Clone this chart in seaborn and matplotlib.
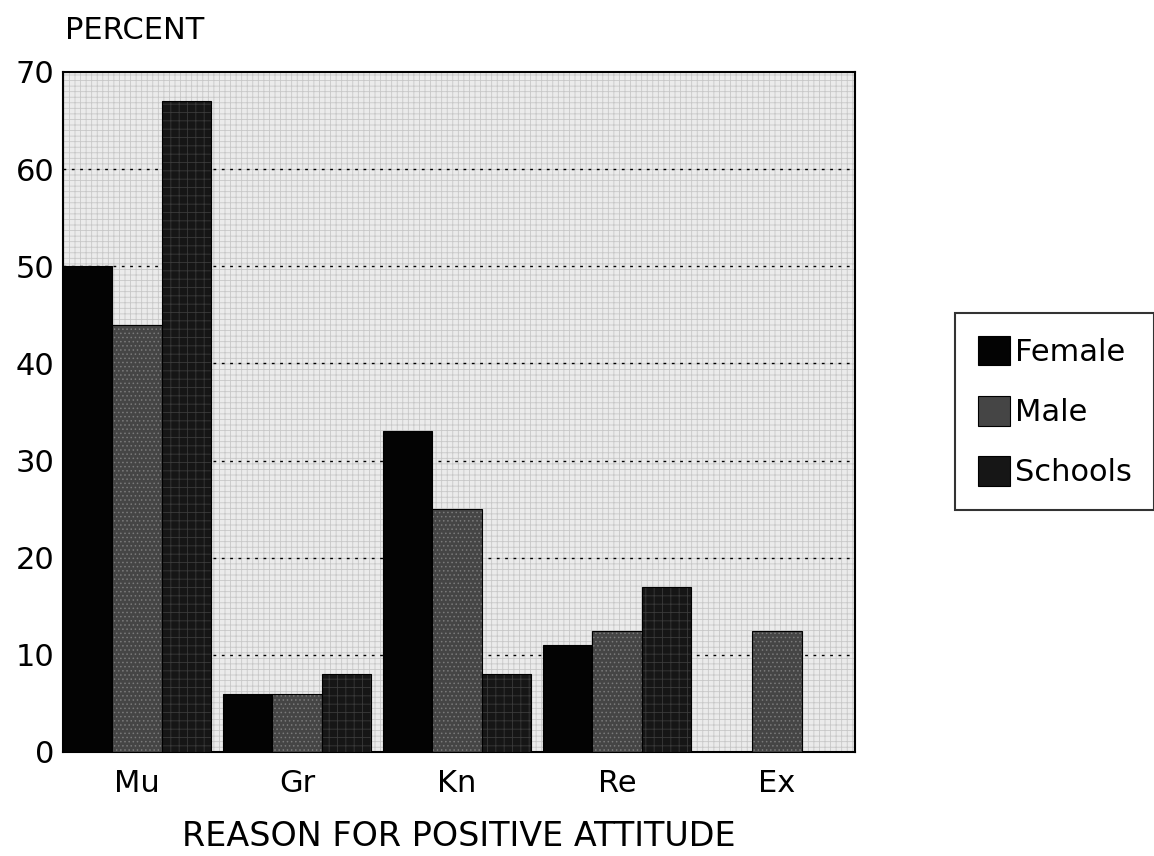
# Imports

import pandas as pd
import numpy as np
import matplotlib.pyplot as plt
import matplotlib.colors as mcolors
import seaborn as sns

# Data

reasons = ['Mu', 'Gr', 'Kn', 'Re', 'Ex']
groups = ['Female', 'Male', 'Schools']
female = [50, 6, 33, 11, 0]
male = [44, 6, 25, 12.5, 12.5]
schools = [67, 8, 8, 17, 0]

data = pd.DataFrame({
    'reason': reasons * 3,
    'group': ['Female'] * 5 + ['Male'] * 5 + ['Schools'] * 5,
    'percent': female + male + schools,
})

# Plot

sns.set_style('white', {'text.color': 'black', 'xtick.color': 'black',
                        'ytick.color': 'black', 'axes.labelcolor': 'black'})
plt.rcParams['font.family'] = ['DejaVu Sans']
plt.rcParams['hatch.linewidth'] = 0.6

fig = plt.figure(figsize=(11.54, 8.56), dpi=100)
ax = fig.add_axes([0.0546, 0.1215, 0.6864, 0.7945])

palette = {'Female': '#030303', 'Male': '#454545', 'Schools': '#161616'}
sns.barplot(data=data, x='reason', y='percent', hue='group', order=reasons,
            hue_order=groups, palette=palette, saturation=1, width=0.925,
            edgecolor='black', linewidth=0.8, ax=ax, zorder=3)

# textures on the bars
for cont, hatch, hc in zip(ax.containers, [None, '....', '++'], [None, '#7a7a7a', '#3a3a3a']):
    for bar in cont:
        if hatch:
            bar.set_hatch(hatch)
            bar._hatch_color = mcolors.to_rgba(hc)

# stippled background
ax.set_facecolor('#ebebeb')
ax.patch.set_hatch('+++')
ax.patch.set_edgecolor('#c8c8c8')

ax.set_ylim(0, 70)
ax.set_xlim(-0.4625, 4.4875)
ax.set_yticks(range(0, 71, 10))
for y in range(10, 70, 10):
    ax.axhline(y, color='black', linestyle=(0, (2, 4)), linewidth=1.0, zorder=2)

for s in ax.spines.values():
    s.set_color('black')
    s.set_linewidth(1.5)

ax.tick_params(axis='x', labelsize=22, length=0, pad=12)
ax.tick_params(axis='y', labelsize=22, length=0, pad=6)
ax.set_xlabel('REASON FOR POSITIVE ATTITUDE', fontsize=24, labelpad=16)
ax.set_ylabel('')
fig.text(0.056, 0.948, 'PERCENT', fontsize=22, ha='left', va='bottom')

leg = ax.legend(loc='center left', bbox_to_anchor=(0.8275, 0.519),
                bbox_transform=fig.transFigure, fontsize=22, frameon=True,
                fancybox=False, edgecolor='black', handlelength=1.05,
                handleheight=1.1, handletextpad=0.15, labelspacing=0.95,
                borderpad=0.75, borderaxespad=0, title=None)
leg.get_frame().set_linewidth(1.5)

plt.savefig('out.png', dpi=100)
